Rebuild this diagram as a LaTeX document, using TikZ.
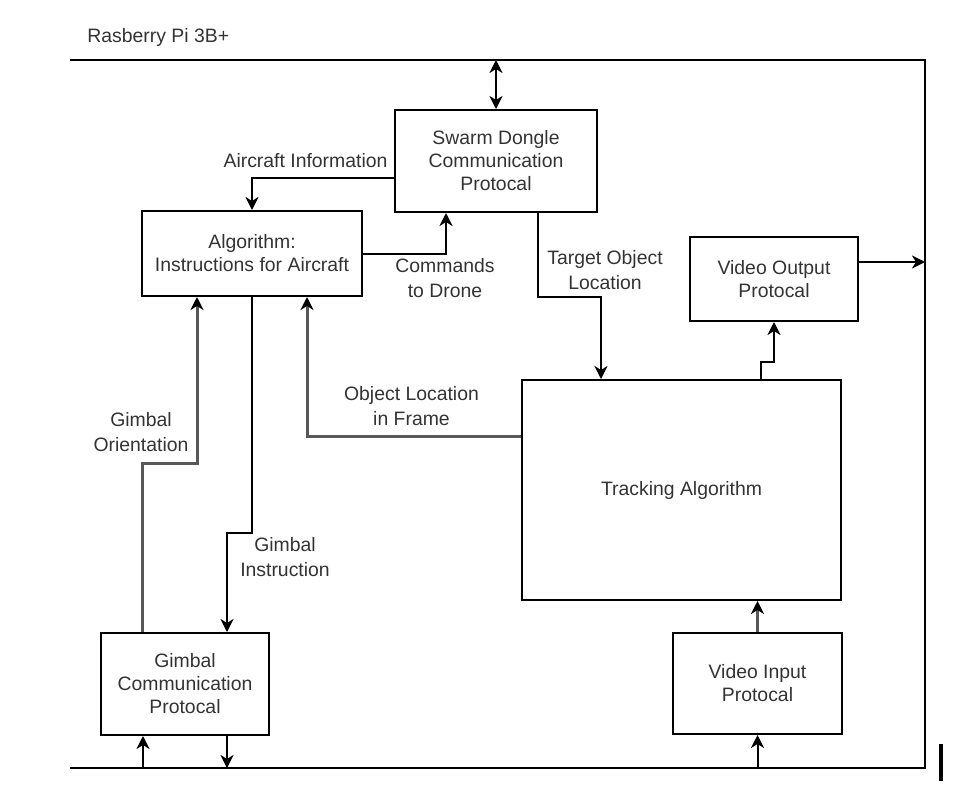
\documentclass[tikz,border=0pt]{standalone}
\usepackage{fontspec}
\setmainfont{Liberation Sans}
\usepackage{xcolor}
\usetikzlibrary{arrows.meta}

\definecolor{txtgray}{HTML}{333333}
\definecolor{wiregray}{HTML}{585858}

\tikzset{
  tip/.tip={Stealth[length=6.5pt,width=6.5pt,inset=2pt,color=black]},
  blk/.style={draw, line width=1pt, inner sep=0pt, align=center, text=txtgray,
    font=\fontsize{9.7}{11.5}\selectfont},
  lbl/.style={align=center, inner sep=0pt, text=txtgray,
    font=\fontsize{9.7}{12.5}\selectfont},
  flow/.style={-tip, line width=1pt},
  bothflow/.style={tip-tip, line width=1pt},
  softflow/.style={flow, draw=wiregray, line width=1.5pt},
}

\begin{document}
\begin{tikzpicture}[x=0.5pt, y=-0.5pt]
    \useasboundingbox (0,0) rectangle (976,804);

    % frame of the board
    \coordinate (frameTL) at (70,60);
    \coordinate (frameTR) at (925,60);
    \coordinate (frameBR) at (925,768);
    \coordinate (frameBL) at (70,768);
    \draw[line width=1pt] (frameTL) -- (frameTR) -- (frameBR) -- (frameBL);
    \node[lbl, anchor=west] (board) at (87,37) {Rasberry Pi 3B+};

    % blocks
    \node[blk, minimum width=101pt, minimum height=51pt] (swarm) at (496,161)
      {Swarm Dongle\\Communication\\Protocal};
    \node[blk, minimum width=110pt, minimum height=42.5pt] (algo) at (252,253.5)
      {Algorithm:\\Instructions for Aircraft};
    \node[blk, minimum width=84pt, minimum height=42pt] (vout) at (774,279)
      {Video Output\\Protocal};
    \node[blk, minimum width=159.5pt, minimum height=110pt] (track) at (681.5,490)
      {Tracking Algorithm};
    \node[blk, minimum width=84.5pt, minimum height=50.5pt] (vin) at (757.5,683.5)
      {Video Input\\Protocal};
    \node[blk, minimum width=84pt, minimum height=51pt] (gimb) at (185,684)
      {Gimbal\\Communication\\Protocal};

    % labels
    \node[lbl] (lInfo) at (305.5,161) {Aircraft Information};
    \node[lbl] (lCmd) at (445,278.5) {Commands\\to Drone};
    \node[lbl] (lTarget) at (605,270) {Target Object\\Location};
    \node[lbl] (lFrame) at (411.5,406) {Object Location\\in Frame};
    \node[lbl] (lOrient) at (141,432) {Gimbal\\Orientation};
    \node[lbl] (lInstr) at (285,557.5) {Gimbal\\Instruction};

    % connectors
    \draw[bothflow] (swarm.north) -- (swarm.north |- frameTL);
    \draw[flow] ([yshift=-8.5pt]swarm.west) -| (algo.north);
    \draw[flow] (algo.east) -| ([xshift=-25pt]swarm.south);
    \draw[flow] ([xshift=21pt]swarm.south) -- ++(0,84) -| ([xshift=-40.25pt]track.north);
    \draw[flow] ([xshift=39.75pt]track.north) -- ++(0,-17) -| (vout.south);
    \coordinate (voutR) at ([yshift=8.5pt]vout.east);
    \draw[flow] (voutR) -- (voutR -| frameTR);
    \draw[softflow] ([yshift=27pt]track.west) -| ([xshift=27.5pt]algo.south);
    \draw[softflow] (vin.north) -- (vin.north |- track.south);
    \draw[flow] (vin.south |- frameBL) -- (vin.south);
    \draw[softflow] ([xshift=-21.5pt]gimb.north) -- ++(0,-169) -| ([xshift=-27.5pt]algo.south);
    \draw[flow] (algo.south) -- ++(0,236) -| ([xshift=21pt]gimb.north);
    \coordinate (gIn) at ([xshift=-21pt]gimb.south);
    \coordinate (gOut) at ([xshift=21pt]gimb.south);
    \draw[flow] (gIn |- frameBL) -- (gIn);
    \draw[flow] (gOut) -- (gOut |- frameBL);

    % mark at the lower right
    \draw[line width=2pt] (941,744) -- (941,781);
\end{tikzpicture}
\end{document}
